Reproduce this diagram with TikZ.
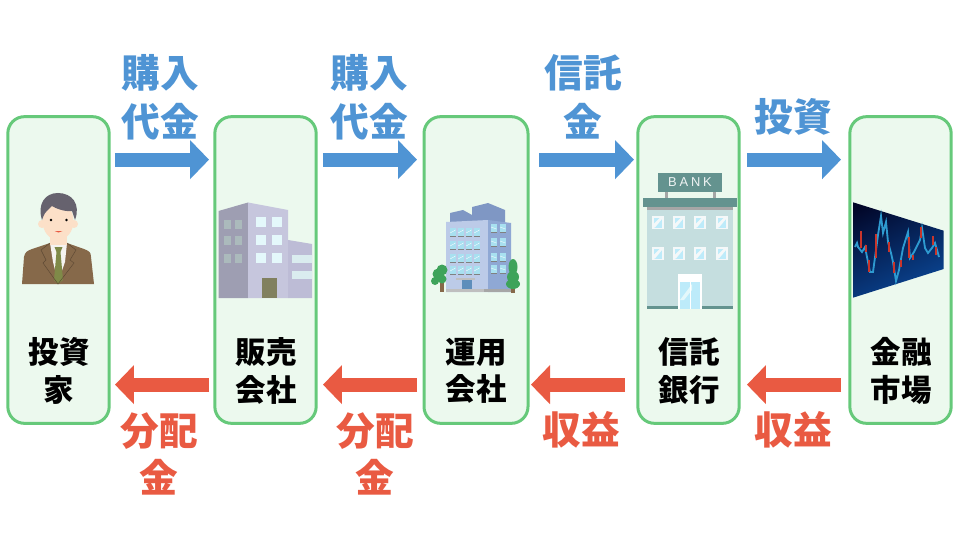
\documentclass[tikz,border=0pt]{standalone}
\usepackage{fontspec}
\usepackage{tikz}
\usetikzlibrary{arrows.meta}
\newfontfamily\cjk{Noto Sans CJK JP Black}
\setmainfont{Liberation Sans}
\definecolor{boxgreen}{HTML}{66C97A}
\definecolor{boxfill}{HTML}{ECF9EE}
\definecolor{flowblue}{HTML}{4F94D4}
\definecolor{flowred}{HTML}{E95A42}
\definecolor{suit}{HTML}{86694A}
\definecolor{tiegreen}{HTML}{7F8A48}
\definecolor{hair}{HTML}{66626E}
\definecolor{skin}{HTML}{FCE0C8}
\definecolor{glass}{HTML}{E4F8FB}
\definecolor{officeside}{HTML}{9E9EB2}
\definecolor{officefront}{HTML}{C6C6DD}
\definecolor{officewing}{HTML}{BDBCD6}
\definecolor{towerleft}{HTML}{BCCBE8}
\definecolor{towerright}{HTML}{8FA8D4}
\definecolor{towerroof}{HTML}{7F97C4}
\definecolor{towerglass}{HTML}{A8E0F0}
\definecolor{bankteal}{HTML}{64938F}
\definecolor{bankwall}{HTML}{C5DEDF}
\definecolor{bankglass}{HTML}{BDEBFA}
\definecolor{tree}{HTML}{3EA35A}
\definecolor{chartdark}{HTML}{020628}
\definecolor{chartblue}{HTML}{0B4C9E}
\definecolor{chartline}{HTML}{2E9AD0}
\definecolor{chartred}{HTML}{C8352C}
\tikzset{
    stage/.style={draw=boxgreen,fill=boxfill,line width=0.09cm,rounded corners=0.5cm,minimum width=3.04cm,minimum height=9.2cm,outer sep=0pt,inner sep=0pt},
    stagelabel/.style={align=center,text=black,font=\cjk\fontsize{26}{32}\selectfont},
    paylabel/.style={align=center,text=flowblue,font=\cjk\fontsize{33}{41.6}\selectfont},
    backlabel/.style={align=center,text=flowred,font=\cjk\fontsize{33}{40}\selectfont},
    payarrow/.style={draw=flowblue,line width=0.42cm,-{Triangle[length=0.57cm,width=1.14cm]}},
    backarrow/.style={draw=flowred,line width=0.42cm,-{Triangle[length=0.57cm,width=1.14cm]}}
}
\begin{document}
\begin{tikzpicture}[x=0.03cm,y=-0.03cm]
    \useasboundingbox (0,0) rectangle (960,540);
    \node[stage] (investor) at (58.5,270) {};
    \node[stage] (seller) at (265.5,270) {};
    \node[stage,minimum width=3.12cm] (manager) at (476,270) {};
    \node[stage] (trust) at (688.5,270) {};
    \node[stage] (market) at (900.5,270) {};

    % man
    \fill[suit] (22,284) -- (24,257) .. controls (25,252) and (27,251) .. (32,249) -- (50,243) -- (67,243) -- (84,249) .. controls (89,251) and (91,252) .. (91,257) -- (94,284) -- cycle;
    \fill[white!92!suit] (50,243) -- (67,243) -- (65,262) -- (58,282) -- (53,262) -- cycle;
    \fill[tiegreen] (54.5,247) -- (62.5,247) -- (60.5,252) -- (63,280) -- (58,284) -- (54,280) -- (56.5,252) -- cycle;
    \draw[suit!70!black,line width=0.4pt] (50,243) -- (41,250) -- (46,260) -- (43,263) -- (58,284) -- (74,263) -- (70,260) -- (76,250) -- (67,243);
    \fill[skin] (50,230) rectangle (67,245);
    \fill[skin] (42,224) circle (4);
    \fill[skin] (74,224) circle (4);
    \fill[skin] (58,221) ellipse (15.5 and 19);
    \fill[hair] (42,220) .. controls (37,204) and (45,193) .. (58,193) .. controls (72,193) and (81,204) .. (75,220) -- (72,211) .. controls (64,212) and (55,208) .. (52,206) .. controls (49,209) and (45,212) .. (43.5,216) -- cycle;
    \fill[black] (51,220) circle (1.4);
    \fill[black] (66.5,220) circle (1.4);
    \fill[flowred] (54.5,231) .. controls (57,233) and (60,233) .. (62.5,231) -- cycle;

    % sales office
    \fill[officeside] (218.5,211) -- (248,202.5) -- (248,298) -- (218.5,298) -- cycle;
    \fill[officefront] (248,202.5) -- (288,210) -- (288,298) -- (248,298) -- cycle;
    \fill[officewing] (288,240) -- (312,244) -- (312,298) -- (288,298) -- cycle;
    \foreach \wy in {220,236,254}
        \foreach \wx in {224,235}
            \fill[black!25!glass] (\wx,\wy) rectangle ++(7,9);
    \foreach \wy in {217,235,253}
        \foreach \wx in {256,272}
            \fill[glass] (\wx,\wy) rectangle ++(10,10);
    \fill[glass!90!gray] (292,255) rectangle (312,263);
    \fill[glass!90!gray] (292,271) rectangle (312,279);
    \fill[suit!30!tiegreen!60!gray] (262,278) rectangle (277,298);

    % head office
    \fill[towerroof] (450,222) -- (450,213) -- (463,210) -- (472,215) -- (472,222) -- cycle;
    \fill[towerroof] (472,222) -- (472,207) -- (488,203) -- (505,210) -- (505,222) -- cycle;
    \fill[towerleft] (446,222) -- (488,220) -- (488,292) -- (446,292) -- cycle;
    \fill[towerright] (488,220) -- (511,223) -- (511,292) -- (488,292) -- cycle;
    \foreach \wy in {228,241,254,266}
        \foreach \wx in {450,458,466,474} {
            \fill[towerglass] (\wx,\wy) rectangle ++(5.5,8);
            \draw[white,line width=0.3pt] (\wx,\wy+5) -- ++(5.5,-3);
            \draw[gray,line width=0.4pt] (\wx,\wy+8.5) -- ++(5.5,0);
        }
    \foreach \wy in {224,238,253,265}
        \foreach \wx in {491,500} {
            \fill[towerglass] (\wx,\wy) rectangle ++(5.5,8);
            \draw[white,line width=0.3pt] (\wx,\wy+3) -- ++(5.5,2);
            \draw[gray,line width=0.4pt] (\wx,\wy+8.5) -- ++(5.5,0);
        }
    \fill[flowblue!70!gray] (462,280) rectangle (472,292);
    \fill[gray!50] (456,278) rectangle (475,280);
    \fill[gray!50] (446,289) rectangle (484,292);
    \fill[gray!70] (484,289) rectangle (511,292);
    \fill[suit] (439.5,278) rectangle (443.5,292);
    \fill[suit] (511,280) rectangle (515,292.5);
    \fill[tree] (438,274) circle (5.5);
    \fill[tree] (442,279) circle (4.5);
    \fill[tree] (442,270) circle (5.5);
    \fill[tree] (435,281) circle (4);
    \fill[tree] (513,284) ellipse (7 and 5);
    \fill[tree] (513,277) ellipse (6 and 6);
    \fill[tree] (513,267) ellipse (4.5 and 8);

    % bank
    \fill[gray!70] (665,192) rectangle (668,198);
    \fill[gray!70] (713,192) rectangle (716,198);
    \node[fill=bankteal,text=white!90!bankteal,minimum width=1.92cm,minimum height=0.57cm,inner sep=0pt,font=\fontsize{11}{11}\selectfont] (banksign) at (690,182.5) {B\hspace{2.4pt}A\hspace{2.4pt}N\hspace{2.4pt}K};
    \fill[bankwall] (647,207) rectangle (733,308);
    \fill[gray!70] (647,207) rectangle (733,210);
    \fill[bankteal] (643,198) rectangle (737,207);
    \foreach \wy in {216,247}
        \foreach \wx in {652,673,694,716} {
            \fill[white!80!bankwall] (\wx,\wy) rectangle ++(11.5,13);
            \fill[bankglass] (\wx+1.5,\wy+1.5) rectangle ++(8.5,10);
            \fill[white!80!bankwall] (\wx+1.5,\wy+8) -- (\wx+8,\wy+1.5) -- (\wx+10,\wy+1.5) -- (\wx+10,\wy+3) -- (\wx+3,\wy+11.5) -- (\wx+1.5,\wy+11.5) -- cycle;
        }
    \fill[bankteal] (647,306) rectangle (733,308.5);
    \fill[white] (678,274) rectangle (702,308.5);
    \fill[bankglass] (680,282) rectangle (700,308.5);
    \fill[glass] (680,300) -- (692,284) -- (692,290) -- (684,300) -- cycle;
    \draw[white,line width=0.5pt] (690,282) -- (690,308.5);

    % chart
    \begin{scope}
        \clip (853,202.3) -- (943.7,230.7) -- (943.7,269) -- (853,297.7) -- cycle;
        \shade[top color=chartdark,bottom color=chartblue,shading angle=25] (840,195) rectangle (957,305);
    \end{scope}
    \draw[chartline,line width=0.055cm] (855,247) -- (857,243) -- (858,247) -- (862,252) -- (865,247) -- (868,262) -- (870,272) -- (873,272) -- (876,250) -- (878,235) -- (881,216) -- (883,233) -- (886,222) -- (888,242) -- (891,253) -- (893,262) -- (896,281) -- (899,270) -- (903,248) -- (908,232) -- (910,258) -- (914,252) -- (920,240) -- (922,228) -- (925,248) -- (928,253) -- (932,248) -- (935,243) -- (939,257);
    \foreach \cx/\cy/\cz in {861/231/248,866/245/252,869/260/272,876/234/258,889/242/252,894/262/273,901/260/267,909/237/258,913/255/260,921/227/238,933/236/245,936/247/255}
        \draw[chartred,line width=0.07cm] (\cx,\cy) -- (\cx,\cz);

    \draw[payarrow] ([shift={(5.8,43)}]investor.north east) -- ([shift={(-5.8,43)}]seller.north west);
    \draw[payarrow] ([shift={(6.8,43)}]seller.north east) -- ([shift={(-7,43)}]manager.north west);
    \draw[payarrow] ([shift={(11,43)}]manager.north east) -- ([shift={(-3.8,43)}]trust.north west);
    \draw[payarrow] ([shift={(7.8,43)}]trust.north east) -- ([shift={(-8.8,43)}]market.north west);
    \draw[backarrow] ([shift={(-8.8,268)}]market.north west) -- ([shift={(7.8,268)}]trust.north east);
    \draw[backarrow] ([shift={(-12.8,268)}]trust.north west) -- ([shift={(3,268)}]manager.north east);
    \draw[backarrow] ([shift={(-7,268)}]manager.north west) -- ([shift={(6.8,268)}]seller.north east);
    \draw[backarrow] ([shift={(-5.8,268)}]seller.north west) -- ([shift={(5.8,268)}]investor.north east);

    \node[stagelabel] (investorname) at (59,371) {投資\\家};
    \node[stagelabel] (sellername) at (266,371) {販売\\会社};
    \node[stagelabel] (managername) at (476,371) {運用\\会社};
    \node[stagelabel] (trustname) at (689,371) {信託\\銀行};
    \node[stagelabel] (marketname) at (901,371) {金融\\市場};

    \node[paylabel] (pay1) at (160,97) {購入\\代金};
    \node[paylabel] (pay2) at (369,97) {購入\\代金};
    \node[paylabel] (pay3) at (583,97) {信託\\金};
    \node[paylabel] (pay4) at (793,117) {投資};
    \node[backlabel] (back1) at (159,454) {分配\\金};
    \node[backlabel] (back2) at (375,454) {分配\\金};
    \node[backlabel] (back3) at (581,430) {収益};
    \node[backlabel] (back4) at (793,430) {収益};
\end{tikzpicture}
\end{document}
